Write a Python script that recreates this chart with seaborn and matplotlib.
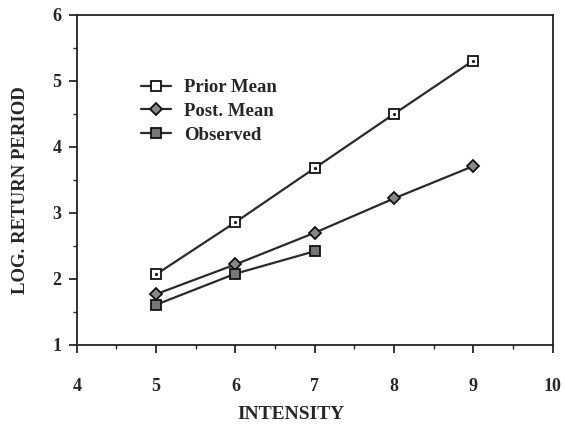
import numpy as np
import pandas as pd
import matplotlib
matplotlib.use("Agg")
import matplotlib.pyplot as plt
import seaborn as sns
from matplotlib.lines import Line2D

intensity_prior = [5, 6, 7, 8, 9]
prior_mean = [2.07, 2.86, 3.68, 4.50, 5.31]
intensity_post = [5, 6, 7, 8, 9]
post_mean = [1.77, 2.22, 2.70, 3.22, 3.71]
intensity_obs = [5, 6, 7]
observed = [1.61, 2.08, 2.42]
series_names = ["Prior Mean", "Post. Mean", "Observed"]

sns.set_style("ticks")
plt.rcParams["font.family"] = ["Liberation Serif", "DejaVu Serif"]
plt.rcParams["font.weight"] = "bold"

df = pd.concat([
    pd.DataFrame({"x": intensity_prior, "y": prior_mean, "s": series_names[0]}),
    pd.DataFrame({"x": intensity_post, "y": post_mean, "s": series_names[1]}),
    pd.DataFrame({"x": intensity_obs, "y": observed, "s": series_names[2]}),
])

fig = plt.figure(figsize=(5.65, 4.28), dpi=100)
ax = fig.add_axes([0.136, 0.194, 0.842, 0.771])

sns.lineplot(data=df, x="x", y="y", hue="s", style="s",
             palette={n: "#2a2a2a" for n in series_names},
             markers={"Prior Mean": "s", "Post. Mean": "D", "Observed": "s"},
             dashes=False, ax=ax, legend=False, linewidth=1.6,
             markersize=6, markeredgewidth=1.3)

lines = ax.get_lines()
faces = ["white", "#888888", "#777777"]
sizes = [7, 6, 7]
for ln, fc, ms in zip(lines, faces, sizes):
    ln.set_markerfacecolor(fc)
    ln.set_markeredgecolor("#111111")
    ln.set_markersize(ms)
ax.plot(intensity_prior, prior_mean, linestyle="none", marker=".", markersize=2.5, color="#111111")

handles = [Line2D([], [], color="#2a2a2a", lw=1.6, marker=m, markersize=ms,
                  markerfacecolor=fc, markeredgecolor="#111111", markeredgewidth=1.3)
           for m, fc, ms in zip(["s", "D", "s"], faces, [7, 6, 7])]
ax.legend(handles, series_names, loc="upper left", bbox_to_anchor=(0.1, 0.857),
          frameon=False, handlelength=1.6, handletextpad=0.7, labelspacing=0.35,
          prop={"family": "Liberation Serif", "weight": "bold", "size": 13.5})

ax.set_xlim(4, 10)
ax.set_ylim(1, 6)
ax.set_xticks([4, 5, 6, 7, 8, 9, 10])
ax.set_yticks([1, 2, 3, 4, 5, 6])
ax.set_xticks(np.arange(4.5, 10, 1), minor=True)
ax.set_yticks(np.arange(1.5, 6, 1), minor=True)
ax.tick_params(axis="both", which="major", direction="out", length=6, width=1.3,
               labelsize=13)
ax.tick_params(axis="both", which="minor", direction="out", length=3, width=1)
ax.tick_params(axis="x", pad=18)
ax.tick_params(axis="y", pad=5)
for sp in ax.spines.values():
    sp.set_visible(True)
    sp.set_linewidth(1.3)
    sp.set_color("#222222")

ax.set_xlabel("INTENSITY", fontsize=14, fontweight="bold")
ax.xaxis.set_label_coords(0.45, -0.185)
ax.set_ylabel("LOG. RETURN PERIOD", fontsize=13.5, fontweight="bold")
ax.yaxis.set_label_coords(-0.1, 0.47)

fig.savefig("out.png", dpi=100)
